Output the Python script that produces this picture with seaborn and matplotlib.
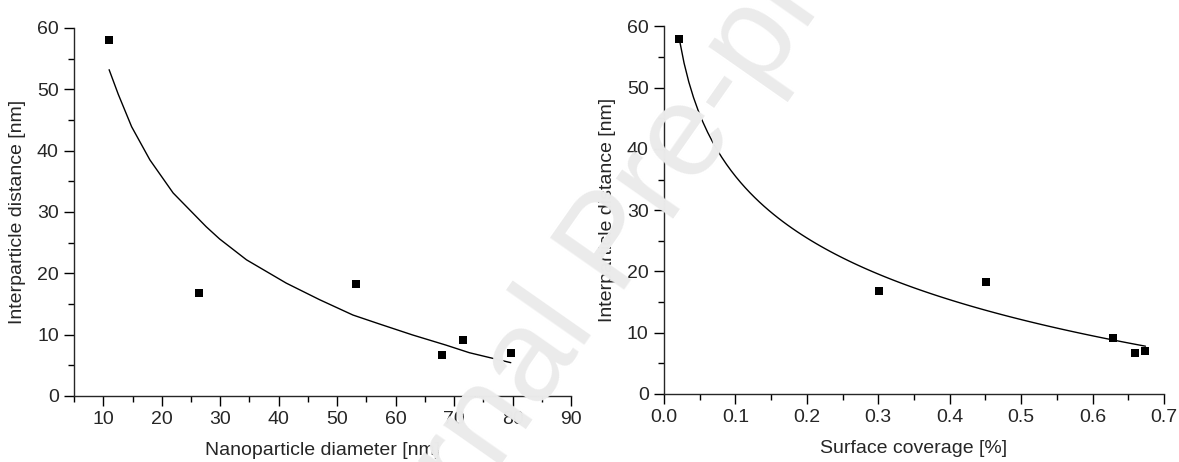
import numpy as np
import pandas as pd
import matplotlib
matplotlib.use('Agg')
import matplotlib.pyplot as plt
import seaborn as sns
from matplotlib.ticker import MultipleLocator, FormatStrFormatter

# 1. Dados
diametro = [11.0, 26.4, 53.2, 67.9, 71.6, 79.7]
dist_diametro = [58.0, 16.75, 18.2, 6.65, 9.1, 6.97]

cobertura = [0.0215, 0.3014, 0.4508, 0.628, 0.659, 0.674]
dist_cobertura = [58.0, 16.8, 18.25, 9.15, 6.65, 6.98]

# curva ajustada do painel esquerdo (lida ponto a ponto)
curva_x = [11.0, 12.56, 14.85, 17.97, 21.95, 27.6, 29.9, 34.5, 41.3, 47.0,
           52.7, 57.2, 62.9, 68.6, 72.6, 79.7]
curva_y = [53.2, 49.2, 43.9, 38.5, 33.1, 27.6, 25.6, 22.2, 18.4, 15.7,
           13.2, 11.75, 9.95, 8.3, 7.06, 5.43]

df_diam = pd.DataFrame({'x': diametro, 'y': dist_diametro})
df_cob = pd.DataFrame({'x': cobertura, 'y': dist_cobertura})
df_curva = pd.DataFrame({'x': curva_x, 'y': curva_y})

# 2. Estilo
sns.set_style('ticks')
plt.rcParams['font.family'] = ['Liberation Sans', 'DejaVu Sans']
plt.rcParams['axes.linewidth'] = 1.0

fig = plt.figure(figsize=(11.79, 4.62), dpi=100)
ax1 = fig.add_axes([0.0628, 0.1429, 0.4215, 0.7965])
ax2 = fig.add_axes([0.5632, 0.1472, 0.4241, 0.7955])

# 3. Painel esquerdo: diametro
sns.lineplot(data=df_curva, x='x', y='y', ax=ax1, color='black', linewidth=1.0, sort=True)
sns.scatterplot(data=df_diam, x='x', y='y', ax=ax1, marker='s', s=40, color='black',
                linewidth=0, zorder=3)
ax1.set_xlim(5, 90)
ax1.set_ylim(0, 60)
ax1.xaxis.set_major_locator(MultipleLocator(10))
ax1.xaxis.set_minor_locator(MultipleLocator(5))
ax1.set_xlabel('Nanoparticle diameter [nm]', fontsize=14, labelpad=10)

# 4. Painel direito: cobertura (ajuste logaritmico)
sns.regplot(data=df_cob, x='x', y='y', ax=ax2, logx=True, ci=None, marker='s', color='black',
            scatter_kws={'s': 40, 'alpha': 1, 'linewidths': 0, 'zorder': 3},
            line_kws={'color': 'black', 'linewidth': 1.0})
ax2.set_xlim(0, 0.7)
ax2.set_ylim(0, 60)
ax2.xaxis.set_major_locator(MultipleLocator(0.1))
ax2.xaxis.set_minor_locator(MultipleLocator(0.05))
ax2.xaxis.set_major_formatter(FormatStrFormatter('%.1f'))
ax2.set_xlabel('Surface coverage [%]', fontsize=14, labelpad=10)

for ax in (ax1, ax2):
    ax.yaxis.set_major_locator(MultipleLocator(10))
    ax.yaxis.set_minor_locator(MultipleLocator(5))
    ax.set_ylabel('Interparticle distance [nm]', fontsize=14, labelpad=8)
    ax.tick_params(which='major', direction='out', length=7, width=1.0, labelsize=14,
                   color='black', pad=4)
    ax.tick_params(which='minor', direction='out', length=4, width=1.0, color='black')
    sns.despine(ax=ax)

# 5. Marca d'agua
fig.text(0.52, 0.47, 'Journal Pre-proof', rotation=55, fontsize=95, color='#ebebeb',
         ha='center', va='center', zorder=10)

plt.savefig('out.png', dpi=100)
plt.close()
